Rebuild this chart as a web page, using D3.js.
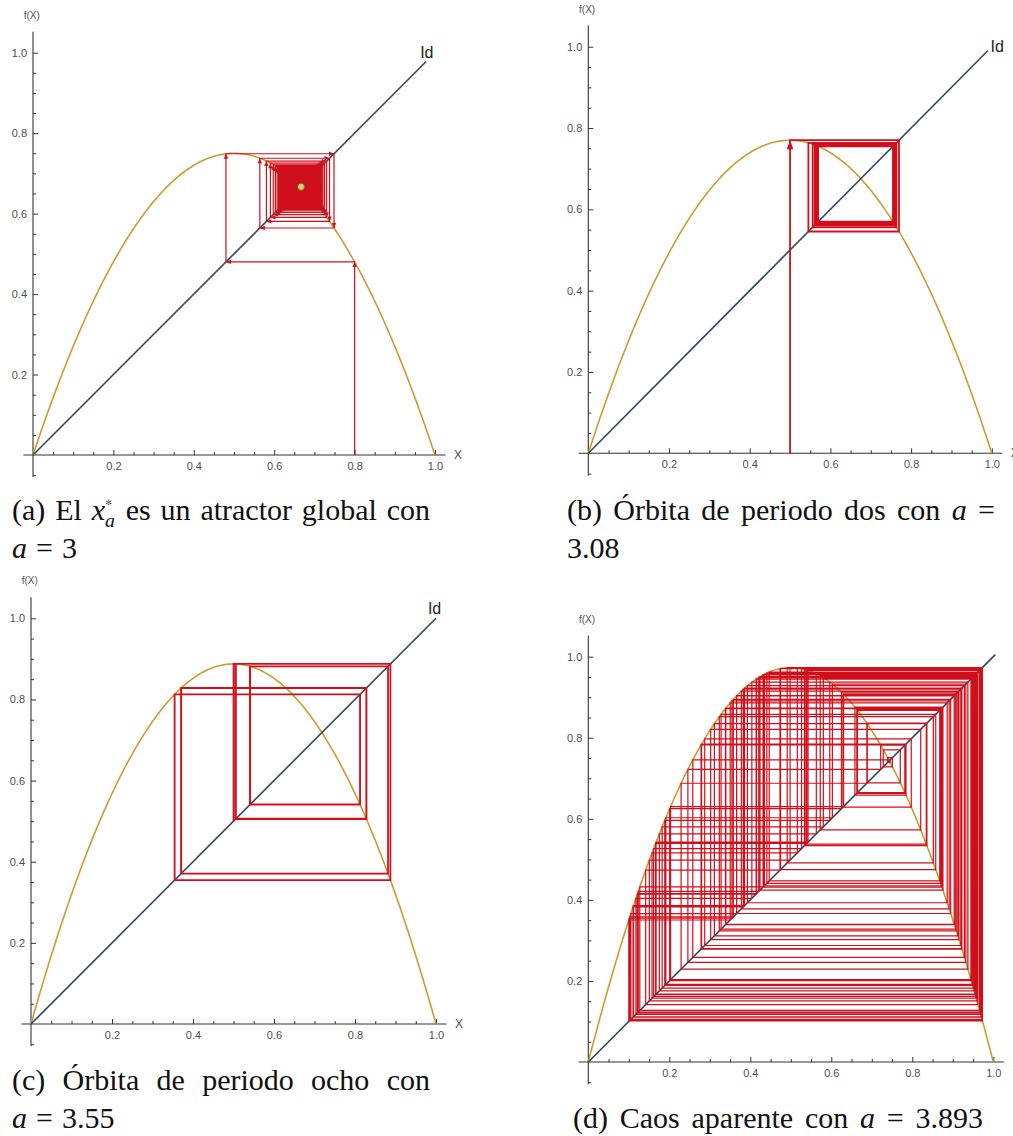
<!DOCTYPE html>
<html>
<head>
<meta charset="utf-8">
<script src="https://cdn.jsdelivr.net/npm/d3@7"></script>
<style>
  html, body { margin: 0; padding: 0; background: #ffffff; }
  svg { display: block; }
  .cap text { font-family: "Liberation Serif", "Tinos", "Times New Roman", "Nimbus Roman", "FreeSerif", "Noto Serif", "DejaVu Serif", serif; }
  .lbl { font-family: "Liberation Sans", Arial, sans-serif; }
</style>
</head>
<body>
<svg id="fig" width="1013" height="1136"></svg>
<script>
// ---- Logistic map f(x) = a x (1 - x): one cobweb panel per parameter ----
const panelIds      = ["a", "b", "c", "d"];
const rates         = [3, 3.08, 3.55, 3.893];   // parameter a of each panel
const seeds         = [0.8, 0.5, 0.5, 0.1];     // starting point x0
const seedFromAxis  = [true, true, false, false]; // first vertical starts at f=0 or on the diagonal
const iterations    = [1200, 60, 160, 140];     // number of map iterations drawn
const arrowSegments = [40, 1, 0, 0];            // segments that carry an arrowhead
const fixedPointMark = [2 / 3, null, null, null];

// axis ticks
const majorTicks      = [0.2, 0.4, 0.6, 0.8, 1.0];
const majorTickLabels = ["0.2", "0.4", "0.6", "0.8", "1.0"];
const minorTicksX     = [0.05, 0.1, 0.15, 0.25, 0.3, 0.35, 0.45, 0.5, 0.55, 0.65, 0.7, 0.75, 0.85, 0.9, 0.95];
const minorTicksY     = [-0.05, 0.05, 0.1, 0.15, 0.25, 0.3, 0.35, 0.45, 0.5, 0.55, 0.65, 0.7, 0.75, 0.85, 0.9, 0.95];

// captions: each line is a list of words, each word a list of runs
const captions = [
  [
    [[{t: "(a)"}], [{t: "El"}], [{t: "x", it: true}, {t: "∗", scale: 0.6, rise: 0.42}, {t: "a", it: true, scale: 0.66, rise: -0.24, stack: true}],
     [{t: "es"}], [{t: "un"}], [{t: "atractor"}], [{t: "global"}], [{t: "con"}]],
    [[{t: "a", it: true}], [{t: "="}], [{t: "3"}]]
  ],
  [
    [[{t: "(b)"}], [{t: "Órbita"}], [{t: "de"}], [{t: "periodo"}], [{t: "dos"}], [{t: "con"}], [{t: "a", it: true}], [{t: "="}]],
    [[{t: "3.08"}]]
  ],
  [
    [[{t: "(c)"}], [{t: "Órbita"}], [{t: "de"}], [{t: "periodo"}], [{t: "ocho"}], [{t: "con"}]],
    [[{t: "a", it: true}], [{t: "="}], [{t: "3.55"}]]
  ],
  [
    [[{t: "(d)"}], [{t: "Caos"}], [{t: "aparente"}], [{t: "con"}], [{t: "a", it: true}], [{t: "="}], [{t: "3.893"}]]
  ]
];

// ---- layout (pixels) ----
const frames = [
  {ox: 33,    oy: 455,  sx: 402,   sy: 402.3},
  {ox: 588.3, oy: 453.3, sx: 403.5, sy: 406.6},
  {ox: 31,    oy: 1024, sx: 405,   sy: 405.7},
  {ox: 588.3, oy: 1062, sx: 405,   sy: 405.3}
];
const idLineEnd   = [0.978, 0.99, 1.0, 1.005];
const idLabelAt   = [[0.963, 0.988], [0.997, 0.988], [0.98, 1.011], null];
const captionLayout = [
  [{x0: 12,  x1: 430, y: 520}, {x0: 12,  y: 558}],
  [{x0: 567, x1: 995, y: 520}, {x0: 567, y: 558}],
  [{x0: 12,  x1: 430, y: 1090}, {x0: 12, y: 1128}],
  [{x0: 573, x1: 983, y: 1128}]
];
const webWidth = [1.2, 1.8, 1.7, 1.2];
const arrowSize = [[5, 2.2], [9, 3.4], [0, 0], [0, 0]];

const colors = {
  curve: "#CC9B30",
  id: "#33475A",
  web: "#CF101C",
  axis: "#333333",
  tickText: "#505050"
};

const svg = d3.select("#fig");

function cobwebPoints(a, x0, fromAxis, n) {
  const pts = [[x0, fromAxis ? 0 : x0]];
  let x = x0;
  for (let i = 0; i < n; i++) {
    const y = a * x * (1 - x);
    pts.push([x, y]);
    pts.push([y, y]);
    x = y;
  }
  return pts;
}

panelIds.forEach((id, p) => {
  const fr = frames[p];
  const a = rates[p];
  const x = d3.scaleLinear().domain([0, 1]).range([fr.ox, fr.ox + fr.sx]);
  const y = d3.scaleLinear().domain([0, 1]).range([fr.oy, fr.oy - fr.sy]);
  const g = svg.append("g").attr("class", "panel-" + id);

  // axes lines
  g.append("line")
    .attr("x1", x(-0.024)).attr("x2", x(1.026))
    .attr("y1", y(0)).attr("y2", y(0))
    .attr("stroke", colors.axis).attr("stroke-width", 1.1);
  g.append("line")
    .attr("x1", x(0)).attr("x2", x(0))
    .attr("y1", y(-0.055)).attr("y2", y(1.052))
    .attr("stroke", colors.axis).attr("stroke-width", 1.1);

  const styleAxis = sel => {
    sel.select(".domain").remove();
    sel.selectAll(".tick line").attr("stroke", colors.axis).attr("stroke-width", 1);
    sel.selectAll(".tick text")
      .attr("fill", colors.tickText)
      .attr("font-family", "Liberation Sans, Arial, sans-serif")
      .attr("font-size", 11);
  };

  g.append("g").attr("transform", `translate(0,${y(0)})`)
    .call(d3.axisBottom(x).tickValues(minorTicksX).tickFormat("").tickSizeInner(-3).tickSizeOuter(0))
    .call(styleAxis);
  g.append("g").attr("transform", `translate(0,${y(0)})`)
    .call(d3.axisBottom(x).tickValues(majorTicks).tickFormat((d, i) => majorTickLabels[i])
      .tickSizeInner(-5).tickSizeOuter(0).tickPadding(7))
    .call(styleAxis);
  g.append("g").attr("transform", `translate(${x(0)},0)`)
    .call(d3.axisLeft(y).tickValues(minorTicksY).tickFormat("").tickSizeInner(-3).tickSizeOuter(0))
    .call(styleAxis);
  g.append("g").attr("transform", `translate(${x(0)},0)`)
    .call(d3.axisLeft(y).tickValues(majorTicks).tickFormat((d, i) => majorTickLabels[i])
      .tickSizeInner(-5).tickSizeOuter(0).tickPadding(6))
    .call(styleAxis);

  // axis names
  g.append("text").attr("class", "lbl").attr("x", x(-0.003)).attr("y", y(1.092))
    .attr("text-anchor", "middle").attr("dominant-baseline", "central")
    .attr("font-size", 10).attr("fill", colors.tickText).text("f(X)");
  g.append("text").attr("class", "lbl").attr("x", x(1.057)).attr("y", y(0))
    .attr("text-anchor", "middle").attr("dominant-baseline", "central")
    .attr("font-size", 12).attr("fill", colors.tickText).text("X");

  // map curve
  const xs = d3.range(0, 1.00001, 0.0025);
  const curve = d3.line().x(d => x(d)).y(d => y(a * d * (1 - d)));
  g.append("path").attr("d", curve(xs))
    .attr("fill", "none").attr("stroke", colors.curve).attr("stroke-width", 1.6);

  // identity line
  g.append("line")
    .attr("x1", x(0)).attr("y1", y(0))
    .attr("x2", x(idLineEnd[p])).attr("y2", y(idLineEnd[p]))
    .attr("stroke", colors.id).attr("stroke-width", 1.6);
  if (idLabelAt[p]) {
    g.append("text").attr("class", "lbl").attr("x", x(idLabelAt[p][0])).attr("y", y(idLabelAt[p][1]))
      .attr("font-size", 16).attr("fill", "#222").text("Id");
  }

  // cobweb
  const pts = cobwebPoints(a, seeds[p], seedFromAxis[p], iterations[p]);
  const web = d3.line().x(d => x(d[0])).y(d => y(d[1]));
  g.append("path").attr("d", web(pts))
    .attr("fill", "none").attr("stroke", colors.web)
    .attr("stroke-width", webWidth[p]).attr("stroke-linejoin", "miter");

  // arrowheads at the end of the first segments
  const [L, W] = arrowSize[p];
  for (let k = 0; k < Math.min(arrowSegments[p], pts.length - 1); k++) {
    const x1 = x(pts[k][0]), y1 = y(pts[k][1]);
    const x2 = x(pts[k + 1][0]), y2 = y(pts[k + 1][1]);
    const len = Math.hypot(x2 - x1, y2 - y1);
    if (len < L * 1.5) continue;
    const ux = (x2 - x1) / len, uy = (y2 - y1) / len;
    const bx = x2 - ux * L, by = y2 - uy * L;
    g.append("path")
      .attr("d", `M${x2},${y2}L${bx - uy * W},${by + ux * W}L${bx + uy * W},${by - ux * W}Z`)
      .attr("fill", colors.web).attr("stroke", "none");
  }

  // fixed point marker
  if (fixedPointMark[p] !== null) {
    g.append("circle").attr("cx", x(fixedPointMark[p])).attr("cy", y(fixedPointMark[p]))
      .attr("r", 3.6).attr("fill", "#E9C86B").attr("stroke", "#6B5A2A").attr("stroke-width", 1);
  }

  // caption
  const capSize = 30;
  captions[p].forEach((line, li) => {
    const lay = captionLayout[p][li];
    const lineG = g.append("g").attr("class", "cap").attr("fill", "#111");
    const widths = [];
    const groups = line.map(word => {
      const wg = lineG.append("g");
      let cursor = 0, lastStart = 0;
      word.forEach(r => {
        const fs = capSize * (r.scale || 1);
        const start = r.stack ? lastStart : cursor;
        const t = wg.append("text").attr("x", start).attr("y", -(r.rise || 0) * capSize)
          .style("font-size", fs + "px").style("font-style", r.it ? "italic" : "normal").text(r.t);
        const w = t.node().getComputedTextLength();
        lastStart = start;
        cursor = Math.max(cursor, start + w + (r.scale ? 1 : 0));
      });
      widths.push(cursor);
      return wg;
    });
    const total = d3.sum(widths);
    const gap = (lay.x1 !== undefined && line.length > 1)
      ? (lay.x1 - lay.x0 - total) / (line.length - 1)
      : capSize * 0.3;
    let cx = lay.x0;
    groups.forEach((wg, i) => {
      wg.attr("transform", `translate(${cx},${lay.y})`);
      cx += widths[i] + gap;
    });
  });
});
</script>
</body>
</html>
